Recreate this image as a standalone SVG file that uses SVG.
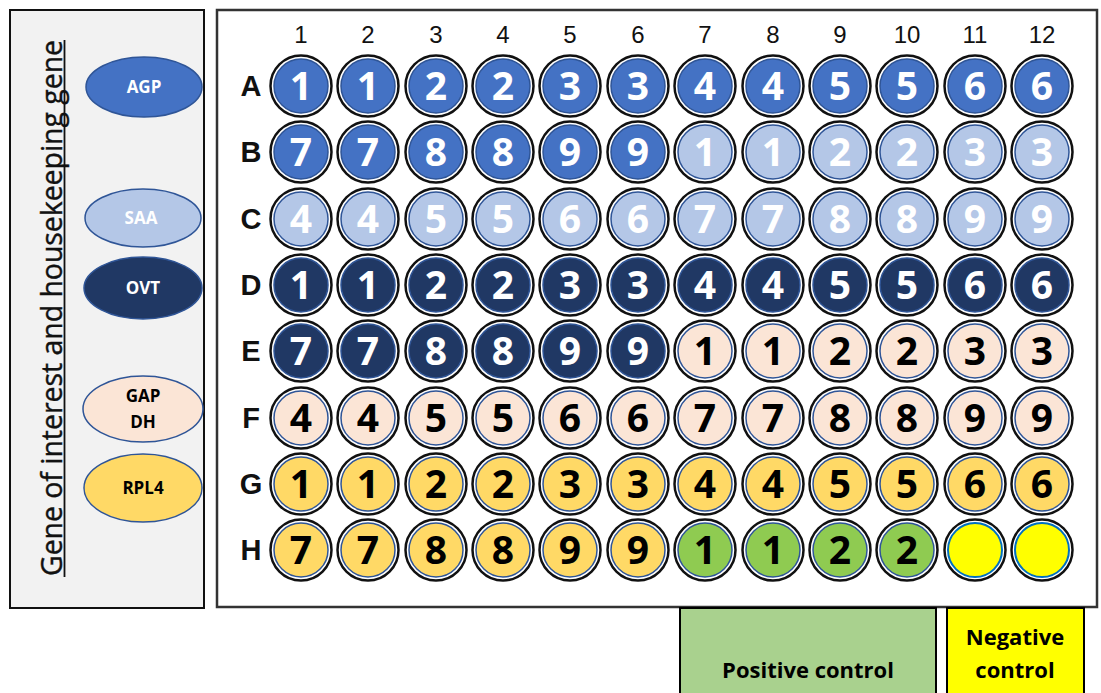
<svg xmlns="http://www.w3.org/2000/svg" width="1101" height="693" viewBox="0 0 1101 693">
<style>
.o{fill:#fff;stroke:#111;stroke-width:2.5}
.i{stroke-width:1.5;stroke:#2F5597}
.agp .i{fill:#4472C4}
.saa .i{fill:#B4C7E7}
.ovt .i{fill:#203864}
.gap .i{fill:#FBE5D6}
.rpl .i{fill:#FFD966}
.pos .i{fill:#8FCB51}
.neg .i{fill:#FFFF00;stroke:#0070C0;stroke-width:2}
.w text{font-family:"Open Sans","Liberation Sans",sans-serif;font-weight:700;font-size:39px;text-anchor:middle;fill:#000}
.agp text,.saa text,.ovt text{fill:#fff}
.col{font-family:"Liberation Sans",Arial,sans-serif;font-size:24px;text-anchor:middle;fill:#111}
.row{font-family:"Liberation Sans",Arial,sans-serif;font-size:29px;font-weight:700;text-anchor:middle;fill:#111}
.leg{stroke:#2F5597;stroke-width:1.5}
.lt{font-family:"Open Sans","Liberation Sans",sans-serif;font-weight:700;font-size:17px;text-anchor:middle}
.box{stroke:#000;stroke-width:2}
.bt{font-family:"Open Sans","Liberation Sans",sans-serif;font-weight:700;font-size:22px;text-anchor:middle;fill:#000}
</style>
<rect width="1101" height="693" fill="#fff"/>
<g id="legend-panel">
<rect x="10" y="10" width="194" height="598" fill="#F2F2F2" stroke="#111" stroke-width="2"/>
<text transform="translate(62,308) rotate(-90)" font-family="'Open Sans','Liberation Sans',sans-serif" font-size="30" fill="#111" stroke="#111" stroke-width="0.4" text-anchor="middle" textLength="536" lengthAdjust="spacingAndGlyphs">Gene of interest and housekeeping gene</text>
<line x1="64.5" y1="40" x2="64.5" y2="577" stroke="#111" stroke-width="1.8"/>
</g>
<g id="legend-AGP"><ellipse class="leg" cx="144" cy="87" rx="58" ry="30" fill="#4472C4"/><text class="lt" x="144" y="93" fill="#fff">AGP</text></g>
<g id="legend-SAA"><ellipse class="leg" cx="143" cy="218" rx="58" ry="29" fill="#B4C7E7"/><text class="lt" x="141" y="224" fill="#fff">SAA</text></g>
<g id="legend-OVT"><ellipse class="leg" cx="143" cy="288" rx="59" ry="31" fill="#203864"/><text class="lt" x="143" y="294" fill="#fff">OVT</text></g>
<g id="legend-GAPDH"><ellipse class="leg" cx="143" cy="409" rx="60" ry="33" fill="#FBE5D6"/><text class="lt" x="143" y="402" fill="#000">GAP</text><text class="lt" x="143" y="428" fill="#000">DH</text></g>
<g id="legend-RPL4"><ellipse class="leg" cx="143" cy="488" rx="59" ry="34" fill="#FFD966"/><text class="lt" x="143" y="494" fill="#000">RPL4</text></g>

<g id="plate">
<rect x="217" y="10" width="880" height="597" fill="#fff" stroke="#333" stroke-width="2.5"/>
<text class="col" x="301" y="43">1</text><text class="col" x="368" y="43">2</text><text class="col" x="436" y="43">3</text><text class="col" x="503" y="43">4</text><text class="col" x="570" y="43">5</text><text class="col" x="638" y="43">6</text><text class="col" x="705" y="43">7</text><text class="col" x="773" y="43">8</text><text class="col" x="840" y="43">9</text><text class="col" x="907" y="43">10</text><text class="col" x="975" y="43">11</text><text class="col" x="1042" y="43">12</text>
<text class="row" x="251" y="96">A</text><text class="row" x="251" y="162">B</text><text class="row" x="251" y="229">C</text><text class="row" x="251" y="295">D</text><text class="row" x="251" y="361">E</text><text class="row" x="251" y="428">F</text><text class="row" x="251" y="494">G</text><text class="row" x="251" y="560">H</text>
</g>

<g id="wells">
<g id="A1" class="w agp" transform="translate(301,86)"><circle class="o" r="30.5"/><circle class="i" r="27"/><text y="14">1</text></g>
<g id="A2" class="w agp" transform="translate(368,86)"><circle class="o" r="30.5"/><circle class="i" r="27"/><text y="14">1</text></g>
<g id="A3" class="w agp" transform="translate(436,86)"><circle class="o" r="30.5"/><circle class="i" r="27"/><text y="14">2</text></g>
<g id="A4" class="w agp" transform="translate(503,86)"><circle class="o" r="30.5"/><circle class="i" r="27"/><text y="14">2</text></g>
<g id="A5" class="w agp" transform="translate(570,86)"><circle class="o" r="30.5"/><circle class="i" r="27"/><text y="14">3</text></g>
<g id="A6" class="w agp" transform="translate(638,86)"><circle class="o" r="30.5"/><circle class="i" r="27"/><text y="14">3</text></g>
<g id="A7" class="w agp" transform="translate(705,86)"><circle class="o" r="30.5"/><circle class="i" r="27"/><text y="14">4</text></g>
<g id="A8" class="w agp" transform="translate(773,86)"><circle class="o" r="30.5"/><circle class="i" r="27"/><text y="14">4</text></g>
<g id="A9" class="w agp" transform="translate(840,86)"><circle class="o" r="30.5"/><circle class="i" r="27"/><text y="14">5</text></g>
<g id="A10" class="w agp" transform="translate(907,86)"><circle class="o" r="30.5"/><circle class="i" r="27"/><text y="14">5</text></g>
<g id="A11" class="w agp" transform="translate(975,86)"><circle class="o" r="30.5"/><circle class="i" r="27"/><text y="14">6</text></g>
<g id="A12" class="w agp" transform="translate(1042,86)"><circle class="o" r="30.5"/><circle class="i" r="27"/><text y="14">6</text></g>

<g id="B1" class="w agp" transform="translate(301,152)"><circle class="o" r="30.5"/><circle class="i" r="27"/><text y="14">7</text></g>
<g id="B2" class="w agp" transform="translate(368,152)"><circle class="o" r="30.5"/><circle class="i" r="27"/><text y="14">7</text></g>
<g id="B3" class="w agp" transform="translate(436,152)"><circle class="o" r="30.5"/><circle class="i" r="27"/><text y="14">8</text></g>
<g id="B4" class="w agp" transform="translate(503,152)"><circle class="o" r="30.5"/><circle class="i" r="27"/><text y="14">8</text></g>
<g id="B5" class="w agp" transform="translate(570,152)"><circle class="o" r="30.5"/><circle class="i" r="27"/><text y="14">9</text></g>
<g id="B6" class="w agp" transform="translate(638,152)"><circle class="o" r="30.5"/><circle class="i" r="27"/><text y="14">9</text></g>
<g id="B7" class="w saa" transform="translate(705,152)"><circle class="o" r="30.5"/><circle class="i" r="27"/><text y="14">1</text></g>
<g id="B8" class="w saa" transform="translate(773,152)"><circle class="o" r="30.5"/><circle class="i" r="27"/><text y="14">1</text></g>
<g id="B9" class="w saa" transform="translate(840,152)"><circle class="o" r="30.5"/><circle class="i" r="27"/><text y="14">2</text></g>
<g id="B10" class="w saa" transform="translate(907,152)"><circle class="o" r="30.5"/><circle class="i" r="27"/><text y="14">2</text></g>
<g id="B11" class="w saa" transform="translate(975,152)"><circle class="o" r="30.5"/><circle class="i" r="27"/><text y="14">3</text></g>
<g id="B12" class="w saa" transform="translate(1042,152)"><circle class="o" r="30.5"/><circle class="i" r="27"/><text y="14">3</text></g>

<g id="C1" class="w saa" transform="translate(301,219)"><circle class="o" r="30.5"/><circle class="i" r="27"/><text y="14">4</text></g>
<g id="C2" class="w saa" transform="translate(368,219)"><circle class="o" r="30.5"/><circle class="i" r="27"/><text y="14">4</text></g>
<g id="C3" class="w saa" transform="translate(436,219)"><circle class="o" r="30.5"/><circle class="i" r="27"/><text y="14">5</text></g>
<g id="C4" class="w saa" transform="translate(503,219)"><circle class="o" r="30.5"/><circle class="i" r="27"/><text y="14">5</text></g>
<g id="C5" class="w saa" transform="translate(570,219)"><circle class="o" r="30.5"/><circle class="i" r="27"/><text y="14">6</text></g>
<g id="C6" class="w saa" transform="translate(638,219)"><circle class="o" r="30.5"/><circle class="i" r="27"/><text y="14">6</text></g>
<g id="C7" class="w saa" transform="translate(705,219)"><circle class="o" r="30.5"/><circle class="i" r="27"/><text y="14">7</text></g>
<g id="C8" class="w saa" transform="translate(773,219)"><circle class="o" r="30.5"/><circle class="i" r="27"/><text y="14">7</text></g>
<g id="C9" class="w saa" transform="translate(840,219)"><circle class="o" r="30.5"/><circle class="i" r="27"/><text y="14">8</text></g>
<g id="C10" class="w saa" transform="translate(907,219)"><circle class="o" r="30.5"/><circle class="i" r="27"/><text y="14">8</text></g>
<g id="C11" class="w saa" transform="translate(975,219)"><circle class="o" r="30.5"/><circle class="i" r="27"/><text y="14">9</text></g>
<g id="C12" class="w saa" transform="translate(1042,219)"><circle class="o" r="30.5"/><circle class="i" r="27"/><text y="14">9</text></g>

<g id="D1" class="w ovt" transform="translate(301,285)"><circle class="o" r="30.5"/><circle class="i" r="27"/><text y="14">1</text></g>
<g id="D2" class="w ovt" transform="translate(368,285)"><circle class="o" r="30.5"/><circle class="i" r="27"/><text y="14">1</text></g>
<g id="D3" class="w ovt" transform="translate(436,285)"><circle class="o" r="30.5"/><circle class="i" r="27"/><text y="14">2</text></g>
<g id="D4" class="w ovt" transform="translate(503,285)"><circle class="o" r="30.5"/><circle class="i" r="27"/><text y="14">2</text></g>
<g id="D5" class="w ovt" transform="translate(570,285)"><circle class="o" r="30.5"/><circle class="i" r="27"/><text y="14">3</text></g>
<g id="D6" class="w ovt" transform="translate(638,285)"><circle class="o" r="30.5"/><circle class="i" r="27"/><text y="14">3</text></g>
<g id="D7" class="w ovt" transform="translate(705,285)"><circle class="o" r="30.5"/><circle class="i" r="27"/><text y="14">4</text></g>
<g id="D8" class="w ovt" transform="translate(773,285)"><circle class="o" r="30.5"/><circle class="i" r="27"/><text y="14">4</text></g>
<g id="D9" class="w ovt" transform="translate(840,285)"><circle class="o" r="30.5"/><circle class="i" r="27"/><text y="14">5</text></g>
<g id="D10" class="w ovt" transform="translate(907,285)"><circle class="o" r="30.5"/><circle class="i" r="27"/><text y="14">5</text></g>
<g id="D11" class="w ovt" transform="translate(975,285)"><circle class="o" r="30.5"/><circle class="i" r="27"/><text y="14">6</text></g>
<g id="D12" class="w ovt" transform="translate(1042,285)"><circle class="o" r="30.5"/><circle class="i" r="27"/><text y="14">6</text></g>

<g id="E1" class="w ovt" transform="translate(301,351)"><circle class="o" r="30.5"/><circle class="i" r="27"/><text y="14">7</text></g>
<g id="E2" class="w ovt" transform="translate(368,351)"><circle class="o" r="30.5"/><circle class="i" r="27"/><text y="14">7</text></g>
<g id="E3" class="w ovt" transform="translate(436,351)"><circle class="o" r="30.5"/><circle class="i" r="27"/><text y="14">8</text></g>
<g id="E4" class="w ovt" transform="translate(503,351)"><circle class="o" r="30.5"/><circle class="i" r="27"/><text y="14">8</text></g>
<g id="E5" class="w ovt" transform="translate(570,351)"><circle class="o" r="30.5"/><circle class="i" r="27"/><text y="14">9</text></g>
<g id="E6" class="w ovt" transform="translate(638,351)"><circle class="o" r="30.5"/><circle class="i" r="27"/><text y="14">9</text></g>
<g id="E7" class="w gap" transform="translate(705,351)"><circle class="o" r="30.5"/><circle class="i" r="27"/><text y="14">1</text></g>
<g id="E8" class="w gap" transform="translate(773,351)"><circle class="o" r="30.5"/><circle class="i" r="27"/><text y="14">1</text></g>
<g id="E9" class="w gap" transform="translate(840,351)"><circle class="o" r="30.5"/><circle class="i" r="27"/><text y="14">2</text></g>
<g id="E10" class="w gap" transform="translate(907,351)"><circle class="o" r="30.5"/><circle class="i" r="27"/><text y="14">2</text></g>
<g id="E11" class="w gap" transform="translate(975,351)"><circle class="o" r="30.5"/><circle class="i" r="27"/><text y="14">3</text></g>
<g id="E12" class="w gap" transform="translate(1042,351)"><circle class="o" r="30.5"/><circle class="i" r="27"/><text y="14">3</text></g>

<g id="F1" class="w gap" transform="translate(301,418)"><circle class="o" r="30.5"/><circle class="i" r="27"/><text y="14">4</text></g>
<g id="F2" class="w gap" transform="translate(368,418)"><circle class="o" r="30.5"/><circle class="i" r="27"/><text y="14">4</text></g>
<g id="F3" class="w gap" transform="translate(436,418)"><circle class="o" r="30.5"/><circle class="i" r="27"/><text y="14">5</text></g>
<g id="F4" class="w gap" transform="translate(503,418)"><circle class="o" r="30.5"/><circle class="i" r="27"/><text y="14">5</text></g>
<g id="F5" class="w gap" transform="translate(570,418)"><circle class="o" r="30.5"/><circle class="i" r="27"/><text y="14">6</text></g>
<g id="F6" class="w gap" transform="translate(638,418)"><circle class="o" r="30.5"/><circle class="i" r="27"/><text y="14">6</text></g>
<g id="F7" class="w gap" transform="translate(705,418)"><circle class="o" r="30.5"/><circle class="i" r="27"/><text y="14">7</text></g>
<g id="F8" class="w gap" transform="translate(773,418)"><circle class="o" r="30.5"/><circle class="i" r="27"/><text y="14">7</text></g>
<g id="F9" class="w gap" transform="translate(840,418)"><circle class="o" r="30.5"/><circle class="i" r="27"/><text y="14">8</text></g>
<g id="F10" class="w gap" transform="translate(907,418)"><circle class="o" r="30.5"/><circle class="i" r="27"/><text y="14">8</text></g>
<g id="F11" class="w gap" transform="translate(975,418)"><circle class="o" r="30.5"/><circle class="i" r="27"/><text y="14">9</text></g>
<g id="F12" class="w gap" transform="translate(1042,418)"><circle class="o" r="30.5"/><circle class="i" r="27"/><text y="14">9</text></g>

<g id="G1" class="w rpl" transform="translate(301,484)"><circle class="o" r="30.5"/><circle class="i" r="27"/><text y="14">1</text></g>
<g id="G2" class="w rpl" transform="translate(368,484)"><circle class="o" r="30.5"/><circle class="i" r="27"/><text y="14">1</text></g>
<g id="G3" class="w rpl" transform="translate(436,484)"><circle class="o" r="30.5"/><circle class="i" r="27"/><text y="14">2</text></g>
<g id="G4" class="w rpl" transform="translate(503,484)"><circle class="o" r="30.5"/><circle class="i" r="27"/><text y="14">2</text></g>
<g id="G5" class="w rpl" transform="translate(570,484)"><circle class="o" r="30.5"/><circle class="i" r="27"/><text y="14">3</text></g>
<g id="G6" class="w rpl" transform="translate(638,484)"><circle class="o" r="30.5"/><circle class="i" r="27"/><text y="14">3</text></g>
<g id="G7" class="w rpl" transform="translate(705,484)"><circle class="o" r="30.5"/><circle class="i" r="27"/><text y="14">4</text></g>
<g id="G8" class="w rpl" transform="translate(773,484)"><circle class="o" r="30.5"/><circle class="i" r="27"/><text y="14">4</text></g>
<g id="G9" class="w rpl" transform="translate(840,484)"><circle class="o" r="30.5"/><circle class="i" r="27"/><text y="14">5</text></g>
<g id="G10" class="w rpl" transform="translate(907,484)"><circle class="o" r="30.5"/><circle class="i" r="27"/><text y="14">5</text></g>
<g id="G11" class="w rpl" transform="translate(975,484)"><circle class="o" r="30.5"/><circle class="i" r="27"/><text y="14">6</text></g>
<g id="G12" class="w rpl" transform="translate(1042,484)"><circle class="o" r="30.5"/><circle class="i" r="27"/><text y="14">6</text></g>

<g id="H1" class="w rpl" transform="translate(301,550)"><circle class="o" r="30.5"/><circle class="i" r="27"/><text y="14">7</text></g>
<g id="H2" class="w rpl" transform="translate(368,550)"><circle class="o" r="30.5"/><circle class="i" r="27"/><text y="14">7</text></g>
<g id="H3" class="w rpl" transform="translate(436,550)"><circle class="o" r="30.5"/><circle class="i" r="27"/><text y="14">8</text></g>
<g id="H4" class="w rpl" transform="translate(503,550)"><circle class="o" r="30.5"/><circle class="i" r="27"/><text y="14">8</text></g>
<g id="H5" class="w rpl" transform="translate(570,550)"><circle class="o" r="30.5"/><circle class="i" r="27"/><text y="14">9</text></g>
<g id="H6" class="w rpl" transform="translate(638,550)"><circle class="o" r="30.5"/><circle class="i" r="27"/><text y="14">9</text></g>
<g id="H7" class="w pos" transform="translate(705,550)"><circle class="o" r="30.5"/><circle class="i" r="27"/><text y="14">1</text></g>
<g id="H8" class="w pos" transform="translate(773,550)"><circle class="o" r="30.5"/><circle class="i" r="27"/><text y="14">1</text></g>
<g id="H9" class="w pos" transform="translate(840,550)"><circle class="o" r="30.5"/><circle class="i" r="27"/><text y="14">2</text></g>
<g id="H10" class="w pos" transform="translate(907,550)"><circle class="o" r="30.5"/><circle class="i" r="27"/><text y="14">2</text></g>
<g id="H11" class="w neg" transform="translate(975,550)"><circle class="o" r="30.5"/><circle class="i" r="27"/></g>
<g id="H12" class="w neg" transform="translate(1042,550)"><circle class="o" r="30.5"/><circle class="i" r="27"/></g>
</g>

<g id="positive-control"><rect class="box" x="680" y="608" width="256" height="92" fill="#A9D18E"/><text class="bt" x="808" y="678">Positive control</text></g>
<g id="negative-control"><rect class="box" x="947" y="608" width="137" height="92" fill="#FFFF00"/><text class="bt" x="1015" y="645">Negative</text><text class="bt" x="1015" y="678">control</text></g>
<g id="connectors"/>
</svg>
